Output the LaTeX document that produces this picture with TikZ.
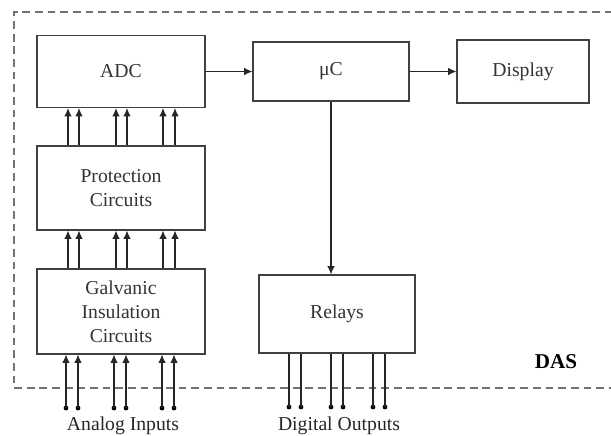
\documentclass[tikz,border=0pt]{standalone}
\usepackage{fontspec}
\setmainfont{Liberation Serif}
\usepackage{tikz}
\usetikzlibrary{arrows.meta}

\begin{document}
\begin{tikzpicture}[
    x=0.025cm, y=-0.025cm,
    every node/.style={font=\fontsize{14}{17}\selectfont, text=black!80},
    block/.style={rectangle, draw=black!75, fill=white,
        line width=0.8pt, align=center, inner sep=2pt},
    sig/.style={draw=black!85, line width=0.8pt,
        -{Latex[length=2.1mm, width=1.9mm]}},
    wire/.style={draw=black!85, line width=0.8pt},
    pin/.style={circle, fill=black, inner sep=0pt, minimum size=1.2mm},
    frame/.style={draw=black!55, line width=1pt,
        dash pattern=on 5.5pt off 3.5pt},
    lbl/.style={font=\fontsize{14}{17}\selectfont, text=black!85}
]
\useasboundingbox (0,0) rectangle (611,435);
% system boundary
\draw[frame] (625,12) -- (14,12) -- (14,388) -- (625,388);
\node[font=\fontsize{15}{17}\selectfont\bfseries, text=black]
    (das) at (556,361.5) {DAS};

% blocks
\node[block, minimum width=4.2cm, minimum height=1.8cm]
    (adc) at (121,71.5) {ADC};
\node[block, minimum width=4.2cm, minimum height=2.1cm]
    (prot) at (121,188) {Protection\\Circuits};
\node[block, minimum width=4.2cm, minimum height=2.125cm]
    (galv) at (121,311.5) {Galvanic\\Insulation\\Circuits};
\node[block, minimum width=3.9cm, minimum height=1.475cm]
    (uc) at (331,71.5) {μC};
\node[block, minimum width=3.3cm, minimum height=1.575cm]
    (disp) at (523,71.5) {Display};
\node[block, minimum width=3.9cm, minimum height=1.95cm]
    (relay) at (337,314) {Relays};

% main signal path
\draw[sig] (adc) -- (uc);
\draw[sig] (uc) -- (disp);
\draw[sig] (uc.south) -- (uc.south |- relay.north);

% parallel channels
\foreach \dx in {-1.325,-1.05,-0.125,0.15,1.05,1.35} {
    \draw[sig] ([xshift=\dx cm]prot.north) -- ([xshift=\dx cm]adc.south);
    \draw[sig] ([xshift=\dx cm]galv.north) -- ([xshift=\dx cm]prot.south);
}

% analog inputs
\coordinate (ain) at (121,408);
\foreach \dx in {-1.375,-1.075,-0.175,0.125,1.025,1.325} {
    \node[pin] (p) at ([xshift=\dx cm]ain) {};
    \draw[sig] (p.center) -- (p.center |- galv.south);
}
\node[lbl, anchor=base] (ainlbl) at (123,430) {Analog Inputs};

% digital outputs
\coordinate (dout) at (337,407);
\foreach \dx in {-1.2,-0.9,-0.15,0.15,0.9,1.2} {
    \node[pin] (q) at ([xshift=\dx cm]dout) {};
    \draw[wire] (q.center |- relay.south) -- (q.center);
}
\node[lbl, anchor=base] (doutlbl) at (339,430) {Digital Outputs};
\end{tikzpicture}
\end{document}
